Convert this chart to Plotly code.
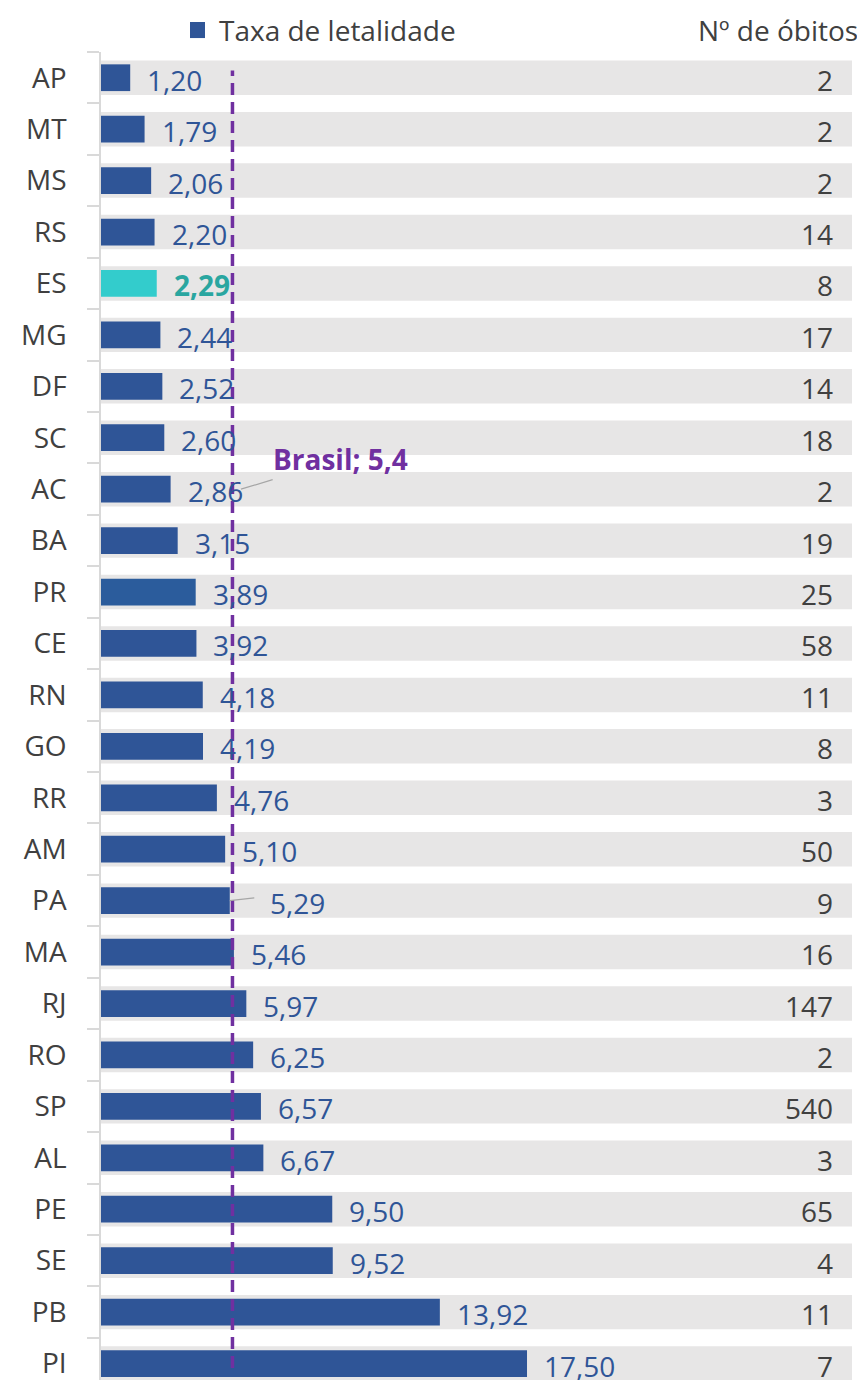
import plotly.graph_objects as go

estados = ["AP", "MT", "MS", "RS", "ES", "MG", "DF", "SC", "AC", "BA", "PR", "CE", "RN",
           "GO", "RR", "AM", "PA", "MA", "RJ", "RO", "SP", "AL", "PE", "SE", "PB", "PI"]
taxa = [1.20, 1.79, 2.06, 2.20, 2.29, 2.44, 2.52, 2.60, 2.86, 3.15, 3.89, 3.92, 4.18,
        4.19, 4.76, 5.10, 5.29, 5.46, 5.97, 6.25, 6.57, 6.67, 9.50, 9.52, 13.92, 17.50]
obitos = [2, 2, 2, 14, 8, 17, 14, 18, 2, 19, 25, 58, 11,
          8, 3, 50, 9, 16, 147, 2, 540, 3, 65, 4, 11, 7]
brasil = 5.4
destaque = "ES"

XMAX = 30.85
FONT = "Open Sans"
FS = 28
BLUE = "#2F5597"
TEAL_BAR = "#33CCCC"
TEAL_TXT = "#2AA6A0"
PURPLE = "#7030A0"
GREY_TXT = "#404040"

bar_colors = []
for s in estados:
    if s == destaque:
        bar_colors.append(TEAL_BAR)
    elif s == "PR":
        bar_colors.append("#2B5C9C")
    else:
        bar_colors.append(BLUE)

fig = go.Figure()
fig.add_trace(go.Bar(
    y=estados, x=[XMAX] * len(estados), orientation="h", width=0.67,
    marker=dict(color="#E7E6E6", line=dict(width=0)), showlegend=False, hoverinfo="skip"))
fig.add_trace(go.Bar(
    y=estados, x=taxa, orientation="h", width=0.52, name="Taxa de letalidade",
    marker=dict(color=bar_colors, line=dict(width=0)), hoverinfo="skip", showlegend=False))

fig.add_shape(type="line", xref="x", yref="paper", x0=brasil, x1=brasil, y0=0.009, y1=0.986,
              line=dict(color=PURPLE, width=3.5, dash="12px,7px"), layer="above")
# legend key (square)
fig.add_shape(type="rect", xref="paper", yref="paper", x0=0.1185, x1=0.1385, y0=1.0105, y1=1.0226,
              fillcolor=BLUE, line=dict(width=0))

annotations = []
for s, v, n in zip(estados, taxa, obitos):
    txt = f"{v:.2f}".replace(".", ",")
    shift = 15
    if s == "PA":
        shift = 38
    if s == destaque:
        txt = f"<b>{txt}</b>"
    annotations.append(dict(
        x=v, y=s, xref="x", yref="y", text=txt, showarrow=False, xanchor="left",
        xshift=shift, yshift=-2,
        font=dict(family=FONT, size=FS, color=TEAL_TXT if s == destaque else BLUE)))
    annotations.append(dict(
        x=0.977, y=s, xref="paper", yref="y", text=str(n), showarrow=False,
        xanchor="right", yshift=-2, font=dict(family=FONT, size=FS, color=GREY_TXT)))

# leader line for PA label
annotations.append(dict(x=5.29, y="PA", xref="x", yref="y", ax=26, ay=-3, axref="pixel",
                        ayref="pixel", text="", showarrow=True, arrowhead=0,
                        arrowwidth=1.2, arrowcolor="#A6A6A6"))
# Brasil label
annotations.append(dict(x=5.75, y="AC", xref="x", yref="y", ax=100, ay=-30,
                        text="<b>Brasil; 5,4</b>", showarrow=True, arrowhead=0,
                        arrowwidth=1.2, arrowcolor="#A6A6A6",
                        font=dict(family=FONT, size=FS, color=PURPLE)))
annotations.append(dict(x=1.0107, y=1.0166, xref="paper", yref="paper", text="Nº de óbitos",
                        showarrow=False, xanchor="right", yanchor="middle",
                        font=dict(family=FONT, size=FS, color=GREY_TXT)))
annotations.append(dict(x=0.1545, y=1.0166, xref="paper", yref="paper", text="Taxa de letalidade",
                        showarrow=False, xanchor="left", yanchor="middle",
                        font=dict(family=FONT, size=FS, color=GREY_TXT)))

fig.update_layout(
    width=865, height=1380,
    margin=dict(l=93, r=21, t=44, b=8),
    barmode="overlay",
    plot_bgcolor="white", paper_bgcolor="white",
    font=dict(family=FONT, size=FS, color=GREY_TXT),
    showlegend=False,
    annotations=annotations,
    xaxis=dict(range=[0, XMAX], visible=False, fixedrange=True),
    yaxis=dict(range=[25.32, -0.5], type="category", showline=True, linecolor="#D9D9D9",
               linewidth=1.5, ticks="outside", tickson="boundaries", ticklen=12,
               tickcolor="#D9D9D9", tickwidth=1.5, ticklabelstandoff=27,
               tickfont=dict(family=FONT, size=FS, color=GREY_TXT), showgrid=False,
               zeroline=False),
)

fig.write_html("out.html")
